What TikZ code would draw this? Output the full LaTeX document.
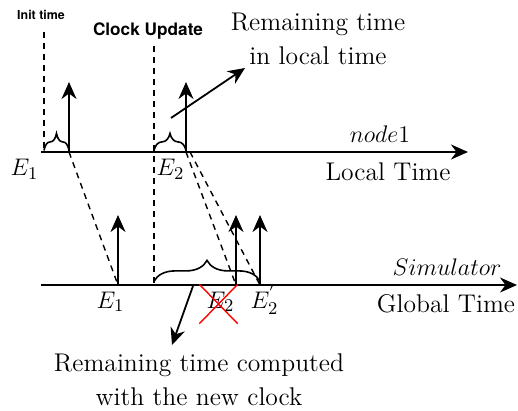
\documentclass[tikz,border=0pt]{standalone}
\usepackage{fontspec}
\newfontfamily\hvfont{TeX Gyre Heros}
\usetikzlibrary{arrows.meta,decorations.pathreplacing,shapes.misc}
\tikzset{
  >={Stealth[length=8.5pt,width=7.5pt]},
  axis/.style={->,line width=1pt},
  evt/.style={->,line width=0.9pt},
  guide/.style={line width=0.7pt,dash pattern=on 3pt off 2.5pt},
  brc/.style={decorate,decoration={brace,amplitude=#1,raise=0.8pt},line width=0.8pt},
  lab/.style={inner sep=0pt},
  hd/.style={inner sep=0pt,font=\hvfont\bfseries\fontsize{#1}{#1}\selectfont},
  strike/.style={draw=red,line width=0.7pt,cross out,inner sep=0pt},
}

\begin{document}
\begin{tikzpicture}[x=0.5pt,y=-0.5pt,font=\fontsize{12.8}{16.8}\selectfont]
  \useasboundingbox (0,0) rectangle (518,411);
  % node1, local time
  \coordinate (l0) at (41,152);
  \coordinate (l1) at (468,152);
  \coordinate (inittop) at (44,32);
  \coordinate (init) at (44,152);
  \coordinate (clktop) at (154,46);
  \coordinate (clk) at (154,152);
  \coordinate (le1) at (69,152);
  \coordinate (le2) at (186,152);
  % simulator, global time
  \coordinate (g0) at (41,285);
  \coordinate (g1) at (517,285);
  \coordinate (gclk) at (154,285);
  \coordinate (ge1) at (118,285);
  \coordinate (ge2) at (236,285);
  \coordinate (ge2n) at (260,285);
  \coordinate (rl0) at (171,118);
  \coordinate (rltip) at (245,68);
  \coordinate (rg0) at (193,286);
  \coordinate (rgtip) at (172,345);

  \draw[axis] (l0) -- (l1);
  \draw[axis] (g0) -- (g1);
  \foreach \e in {le1,le2,ge1,ge2,ge2n}
    \draw[evt] (\e) -- ++(0,-70);

  \draw[guide] (inittop) -- (init);
  \draw[guide] (clktop) -- (gclk);
  \draw[guide] (le1) -- (ge1);
  \draw[guide] (le2) -- (ge2);
  \draw[guide] ([xshift=2pt]le2) -- (ge2n);

  \draw[brc=8.5pt] (init) -- (le1);
  \draw[brc=8.5pt] (clk) -- (le2);
  \draw[brc=10.5pt] ([yshift=1pt]gclk) -- ([yshift=1pt]ge2n);

  \node[hd=6.2] (inittxt) at (41,15) {Init time};
  \node[hd=8.6] (clktxt) at (148,31) {Clock Update};

  \node[lab,anchor=base] (e1l) at (24.5,176) {$E_1$};
  \node[lab,anchor=base] (e2l) at (170.5,176) {$E_2$};
  \node[lab,anchor=base] (n1) at (380,143) {$node1$};
  \node[lab,anchor=base] (lt) at (388,181) {Local Time};

  \node[lab,anchor=base] (e1g) at (110.5,308) {$E_1$};
  \node[lab,anchor=base] (e2g) at (220.5,308) {$E_2$};
  \node[strike,minimum width=18.5pt,minimum height=19pt] (e2x) at (218.5,304) {};
  \node[lab,anchor=base] (e2n) at (264.5,308) {$E_2^{'}$};
  \node[lab,anchor=base] (sim) at (447,275) {$Simulator$};
  \node[lab,anchor=base] (gt) at (446,312) {Global Time};

  \node[lab,align=center] (rlt) at (318,39) {Remaining time\\in local time};
  \node[lab,align=center] (rgt) at (199,380) {Remaining time computed\\with the new clock};
  \draw[evt] (rl0) -- (rltip);
  \draw[evt] (rg0) -- (rgtip);
\end{tikzpicture}
\end{document}
